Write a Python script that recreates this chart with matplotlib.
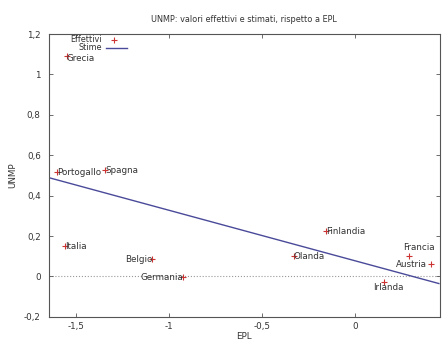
import matplotlib
matplotlib.use("Agg")
import matplotlib.pyplot as plt
from matplotlib.ticker import FuncFormatter

# ── data ────────────────────────────────────────────────────────────────
paesi = ["Grecia", "Portogallo", "Spagna", "Italia", "Belgio", "Germania",
         "Finlandia", "Olanda", "Irlanda", "Francia", "Austria"]
epl = [-1.55, -1.60, -1.345, -1.56, -1.09, -0.925, -0.155, -0.33, 0.155, 0.29, 0.41]
unmp = [1.09, 0.515, 0.525, 0.15, 0.085, -0.005, 0.225, 0.10, -0.025, 0.10, 0.06]

# regression line (stime) at the plot edges
stime_x = [-1.65, 0.45]
stime_y = [0.49, -0.035]

# label placement: (dx, dy) in points and horizontal alignment
label_pos = {
    "Grecia": (0, -1.5, "left"), "Portogallo": (0, 0, "left"), "Spagna": (0, 0, "left"),
    "Italia": (0, 0, "left"), "Belgio": (0, 0, "right"), "Germania": (0, 0, "right"),
    "Finlandia": (0, 0, "left"), "Olanda": (0, 0, "left"), "Irlanda": (-8, -4, "left"),
    "Francia": (-4, 6, "left"), "Austria": (-3, 0, "right"),
}

fig = plt.figure(figsize=(4.42, 3.40), dpi=100)
ax = fig.add_axes([0.111, 0.068, 0.884, 0.832])

text_col = "#333333"
ax.axhline(0, color="#999999", linestyle=":", linewidth=0.8, zorder=1)
ax.plot(stime_x, stime_y, color="#4a4a9a", linewidth=1.0, zorder=2)
ax.plot(epl, unmp, "+", color="#cc3333", markersize=5, markeredgewidth=0.8,
        linestyle="none", zorder=3)

for name, x, y in zip(paesi, epl, unmp):
    dx, dy, ha = label_pos[name]
    ax.annotate(name, (x, y), xytext=(dx, dy), textcoords="offset points",
                ha=ha, va="center", fontsize=6.3, color=text_col)

# legend drawn like gnuplot's key
ax.text(-1.36, 1.174, "Effettivi", ha="right", va="center", fontsize=5.9, color=text_col)
ax.plot([-1.295], [1.172], "+", color="#cc3333", markersize=5, markeredgewidth=0.8)
ax.text(-1.36, 1.131, "Stime", ha="right", va="center", fontsize=5.9, color=text_col)
ax.plot([-1.34, -1.225], [1.131, 1.131], color="#4a4a9a", linewidth=1.0)

ax.set_xlim(-1.645, 0.455)
ax.set_ylim(-0.2, 1.2)
ax.set_xticks([-1.5, -1, -0.5, 0])
ax.set_yticks([-0.2, 0, 0.2, 0.4, 0.6, 0.8, 1.0, 1.2])
fmt = FuncFormatter(lambda v, p: (f"{v:g}").replace(".", ","))
ax.xaxis.set_major_formatter(fmt)
ax.yaxis.set_major_formatter(fmt)
ax.tick_params(direction="in", length=3, width=0.6, top=True, right=True,
               labelsize=6.3, colors="#555555", labelcolor=text_col, pad=6)
ax.tick_params(axis="x", pad=4)
for s in ax.spines.values():
    s.set_color("#555555")
    s.set_linewidth(0.8)

ax.set_xlabel("EPL", fontsize=6.3, color=text_col, labelpad=0.5)
ax.set_ylabel("UNMP", fontsize=6.3, color=text_col, labelpad=5)
ax.set_title("UNMP: valori effettivi e stimati, rispetto a EPL",
             fontsize=5.9, color=text_col, pad=9)

fig.savefig("out.png", dpi=100)
